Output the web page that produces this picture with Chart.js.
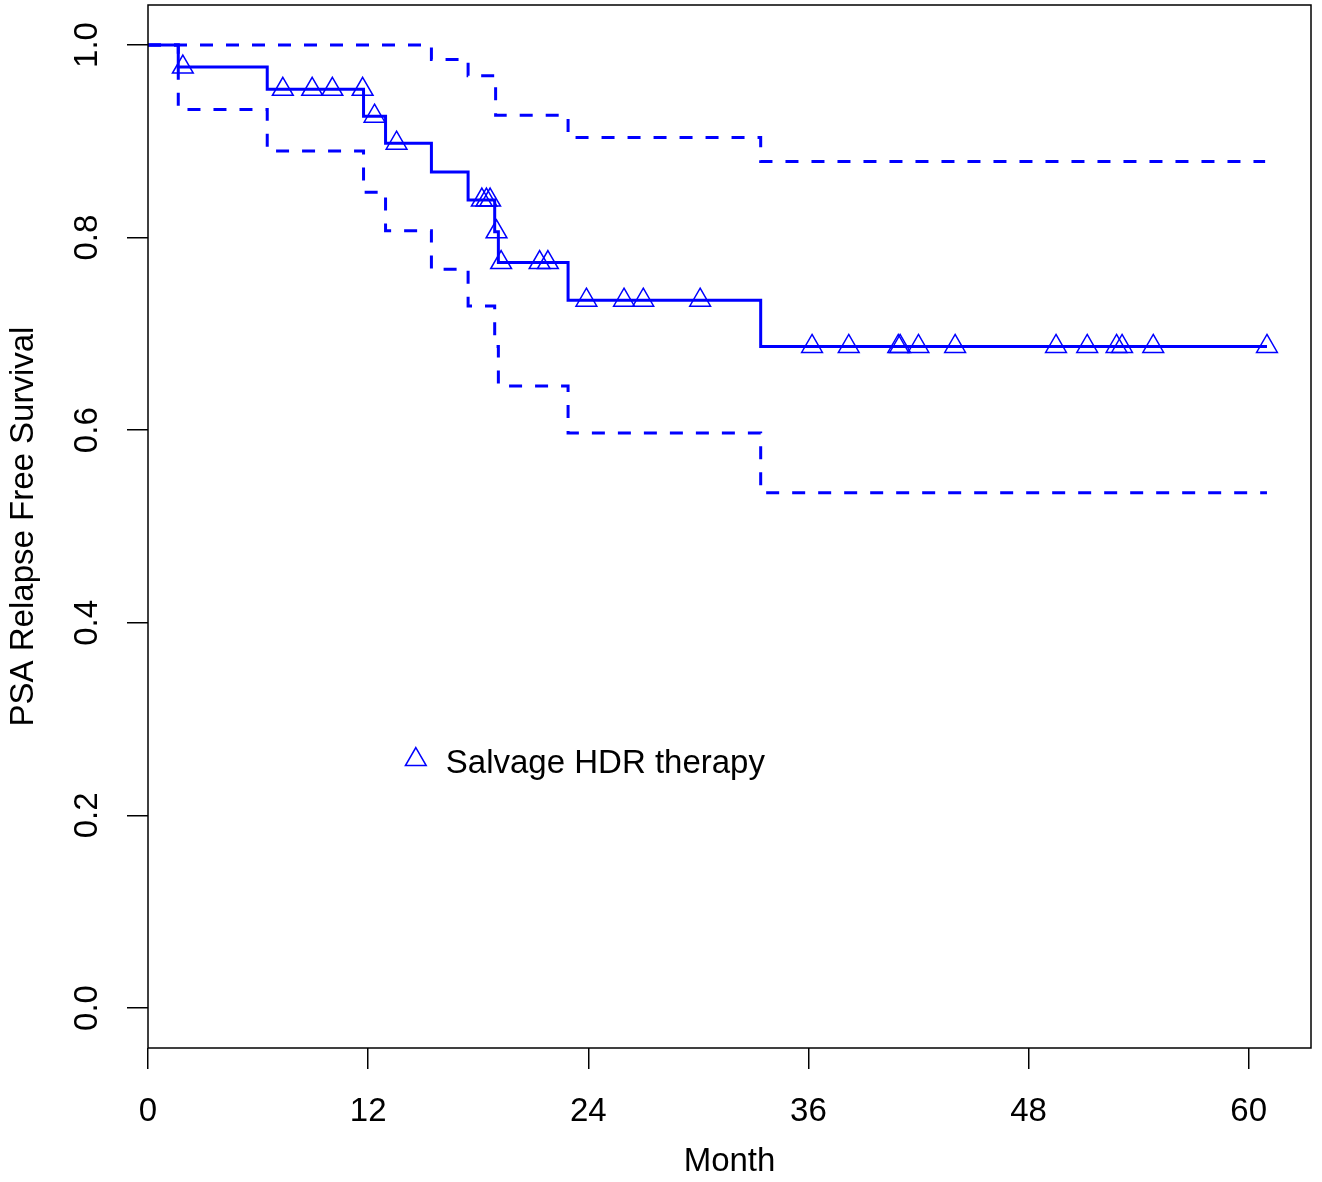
<!DOCTYPE html>
<html>
<head>
<meta charset="utf-8">
<script src="https://cdn.jsdelivr.net/npm/chart.js@4"></script>
<style>
  html, body { margin: 0; padding: 0; background: #fff; }
  #wrap { width: 1322px; height: 1182px; }
</style>
</head>
<body>
<div id="wrap"><canvas id="km"></canvas></div>
<script>
// Kaplan-Meier estimate (months, survival)
const kmTimes = [0, 1.65, 6.5, 11.75, 12.95, 15.45, 17.45, 18.9, 19.1, 22.9, 33.4, 61.0];
const kmSurv = [1.0, 0.977, 0.954, 0.926, 0.898, 0.868, 0.839, 0.806, 0.774, 0.735, 0.687, 0.687];

// confidence band (dashed)
const upperTimes = [0, 15.45, 17.45, 18.95, 22.9, 33.4, 60.9];
const upperSurv = [1.0, 0.985, 0.968, 0.927, 0.904, 0.879, 0.879];
const lowerTimes = [0, 1.65, 6.5, 11.75, 12.95, 15.45, 17.45, 18.9, 19.1, 22.9, 33.4, 61.0];
const lowerSurv = [1.0, 0.933, 0.890, 0.847, 0.807, 0.767, 0.729, 0.687, 0.646, 0.597, 0.535, 0.535];

// censored patients
const censorTimes = [1.9, 7.35, 8.95, 10.05, 11.7, 12.35, 13.55, 18.2, 18.45, 18.65, 19.0, 19.25,
  21.35, 21.8, 23.9, 25.95, 27.0, 30.1, 36.2, 38.2, 40.9, 41.0, 42.0, 44.0, 49.5, 51.2, 52.8, 53.1, 54.8, 61.0];

const xTicks = [0, 12, 24, 36, 48, 60];
const yTicks = [0.0, 0.2, 0.4, 0.6, 0.8, 1.0];
const legendLabel = 'Salvage HDR therapy';

const blue = '#0000ff';
const font = "'Liberation Sans', Arial, sans-serif";

const toPoints = (xs, ys) => xs.map((x, i) => ({ x: x, y: ys[i] }));

// censor marks sit on the curve at their time
const levelAt = (t) => {
  let s = kmSurv[0];
  kmTimes.forEach((kt, i) => { if (kt <= t) s = kmSurv[i]; });
  return s;
};

const boxAndLabels = {
  id: 'boxAndLabels',
  afterDraw(chart) {
    const { ctx, chartArea, scales } = chart;
    ctx.save();
    // box round the plot
    ctx.strokeStyle = '#000';
    ctx.lineWidth = 1.5;
    ctx.strokeRect(chartArea.left, chartArea.top, chartArea.right - chartArea.left, chartArea.bottom - chartArea.top);

    // y tick labels, written along the axis like R does
    ctx.fillStyle = '#000';
    ctx.font = '33px ' + font;
    ctx.textAlign = 'center';
    ctx.textBaseline = 'middle';
    yTicks.forEach(v => {
      const py = scales.y.getPixelForValue(v);
      ctx.save();
      ctx.translate(88, py);
      ctx.rotate(-Math.PI / 2);
      ctx.fillText(v.toFixed(1), 0, 0);
      ctx.restore();
    });

    // legend inside the plot
    const lx = scales.x.getPixelForValue(14.6);
    const ly = scales.y.getPixelForValue(0.258);
    const r = 12;
    ctx.strokeStyle = blue;
    ctx.lineWidth = 1.5;
    ctx.beginPath();
    ctx.moveTo(lx, ly - r);
    ctx.lineTo(lx + r * Math.sin(Math.PI / 3), ly + r / 2);
    ctx.lineTo(lx - r * Math.sin(Math.PI / 3), ly + r / 2);
    ctx.closePath();
    ctx.stroke();
    ctx.textAlign = 'left';
    ctx.fillStyle = '#000';
    ctx.fillText(legendLabel, lx + 30, ly + 4);
    ctx.restore();
  }
};

new Chart(document.getElementById('km'), {
  type: 'line',
  data: {
    datasets: [
      {
        data: toPoints(kmTimes, kmSurv),
        stepped: true,
        borderColor: blue,
        borderWidth: 3,
        pointRadius: 0,
        fill: false
      },
      {
        data: toPoints(upperTimes, upperSurv),
        stepped: true,
        borderColor: blue,
        borderWidth: 3,
        borderDash: [13, 13],
        pointRadius: 0,
        fill: false
      },
      {
        data: toPoints(lowerTimes, lowerSurv),
        stepped: true,
        borderColor: blue,
        borderWidth: 3,
        borderDash: [13, 13],
        pointRadius: 0,
        fill: false
      },
      {
        data: censorTimes.map(t => ({ x: t, y: levelAt(t) })),
        showLine: false,
        pointStyle: 'triangle',
        pointRadius: 12,
        pointBorderWidth: 1.5,
        pointBorderColor: blue,
        pointBackgroundColor: 'rgba(0,0,0,0)'
      }
    ]
  },
  options: {
    responsive: true,
    maintainAspectRatio: false,
    animation: false,
    events: [],
    layout: { autoPadding: false, padding: { left: 0, top: 5, right: 11, bottom: 0 } },
    plugins: {
      legend: { display: false },
      tooltip: { enabled: false }
    },
    scales: {
      x: {
        type: 'linear',
        min: 0,
        max: 63.4,
        afterBuildTicks: (scale) => { scale.ticks = xTicks.map(v => ({ value: v })); },
        afterFit: (scale) => { scale.height = 134; },
        border: { display: false },
        grid: { drawOnChartArea: false, drawTicks: true, tickLength: 21, color: '#000', lineWidth: 1.5 },
        ticks: { color: '#000', padding: 23, font: { family: font, size: 33 }, maxRotation: 0 },
        title: { display: true, text: 'Month', color: '#000', font: { family: font, size: 33 }, padding: { top: 0, bottom: 0 } }
      },
      y: {
        type: 'linear',
        min: -0.0415,
        max: 1.0415,
        afterBuildTicks: (scale) => { scale.ticks = yTicks.map(v => ({ value: v })); },
        afterFit: (scale) => { scale.width = 148; },
        border: { display: false },
        grid: { drawOnChartArea: false, drawTicks: true, tickLength: 21, color: '#000', lineWidth: 1.5 },
        ticks: { display: false },
        title: { display: true, text: 'PSA Relapse Free Survival', color: '#000', font: { family: font, size: 33 }, padding: { top: 4, bottom: 0 } }
      }
    }
  },
  plugins: [boxAndLabels]
});
</script>
</body>
</html>
